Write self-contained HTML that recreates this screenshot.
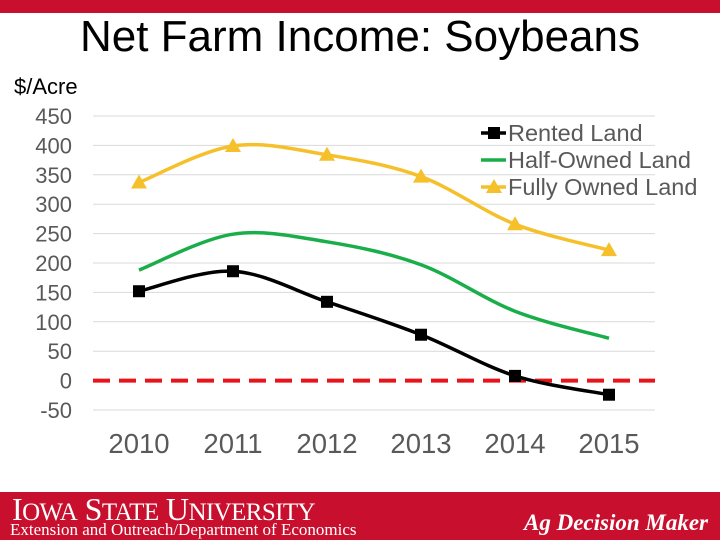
<!DOCTYPE html>
<html><head><meta charset="utf-8"><style>
body{margin:0;width:720px;height:540px;overflow:hidden;background:#fff;font-family:"Liberation Sans",sans-serif}
</style></head><body>
<div style="position:absolute;left:0;top:0;width:720px;height:13px;background:#c8102e"></div>
<div style="position:absolute;left:0;top:12px;width:720px;text-align:center;font-size:44px;color:#000">Net Farm Income: Soybeans</div>
<div style="position:absolute;left:14px;top:74px;font-size:22px;color:#000">$/Acre</div>
<svg id="c" width="720" height="540" style="position:absolute;left:0;top:0"></svg>
<div style="position:absolute;left:0;top:492px;width:720px;height:48px;background:#c8102e;color:#fff">
<div style="position:absolute;left:12px;top:-1px;font-family:'Liberation Serif',serif;font-size:32px;letter-spacing:-0.6px;white-space:nowrap">I<span style="font-size:25px">OWA</span> S<span style="font-size:25px">TATE</span> U<span style="font-size:25px">NIVERSITY</span></div>
<div style="position:absolute;left:10px;top:28px;font-family:'Liberation Serif',serif;font-size:17px;white-space:nowrap">Extension and Outreach/Department of Economics</div>
<div style="position:absolute;right:12px;top:18px;font-family:'Liberation Serif',serif;font-style:italic;font-weight:bold;font-size:23px">Ag Decision Maker</div>
</div>
<script>
const categories=["2010","2011","2012","2013","2014","2015"];
const rented=[152,186,134,78,8,-24];
const halfOwned=[188,249,236,197,118,72];
const fullyOwned=[337,399,384,347,266,222];
const yTicks=[450,400,350,300,250,200,150,100,50,0,-50];
const NS="http://www.w3.org/2000/svg";
const svg=document.getElementById('c');
const y=v=>380.6-v*0.588;
const x=i=>139+i*94;
function mk(t,a,p){const e=document.createElementNS(NS,t);for(const k in a)e.setAttribute(k,a[k]);(p||svg).appendChild(e);return e;}
yTicks.forEach(v=>{
 if(v!==0){const g=mk('line',{x1:93,x2:655,y1:y(v),y2:y(v),stroke:'#d9d9d9','stroke-width':1});
 
 }
 const t=mk('text',{x:72,y:y(v)+8,'text-anchor':'end','font-size':22,fill:'#595959'});t.textContent=v;
 
 
});
categories.forEach((c,i)=>{const t=mk('text',{x:x(i),y:453,'text-anchor':'middle','font-size':27.5,fill:'#595959'});t.textContent=c;
 
 });
const z=mk('line',{x1:93,x2:655,y1:y(0),y2:y(0),stroke:'#e8141b','stroke-width':4,'stroke-dasharray':'17,9'});


function smooth(vals){const p=vals.map((v,i)=>[x(i),y(v)]);let d=`M${p[0][0]},${p[0][1]}`;
 for(let i=0;i<p.length-1;i++){const p0=p[Math.max(0,i-1)],p1=p[i],p2=p[i+1],p3=p[Math.min(p.length-1,i+2)];const k=1/6;
 d+=` C${p1[0]+(p2[0]-p0[0])*k},${p1[1]+(p2[1]-p0[1])*k} ${p2[0]-(p3[0]-p1[0])*k},${p2[1]-(p3[1]-p1[1])*k} ${p2[0]},${p2[1]}`;}return d;}
function series(vals,color,marker,name){
 const l=mk('path',{d:smooth(vals),fill:'none',stroke:color,'stroke-width':3.5});
 
 
 vals.forEach((v,i)=>{let m;
  if(marker==='sq')m=mk('rect',{x:x(i)-6,y:y(v)-6,width:12,height:12,fill:'#000'});
  else if(marker==='tri')m=mk('polygon',{points:`${x(i)-8},${y(v)+6} ${x(i)+8},${y(v)+6} ${x(i)},${y(v)-8}`,fill:color});
  if(m){
  }});
}
series(halfOwned,'#1aae4a',null,'half-owned');
series(fullyOwned,'#f5c02a','tri','fully-owned');
series(rented,'#000','sq','rented');
const leg=[["Rented Land",'#000','sq'],["Half-Owned Land",'#1aae4a',null],["Fully Owned Land",'#f5c02a','tri']];
leg.forEach((e,i)=>{const cy=133+i*27;
 const l=mk('line',{x1:481,x2:506,y1:cy,y2:cy,stroke:e[1],'stroke-width':3.5});
 
 
 if(e[2]==='sq'){const m=mk('rect',{x:488,y:cy-6,width:12,height:12,fill:'#000'});
 }
 if(e[2]==='tri'){const m=mk('polygon',{points:`486,${cy+6} 502,${cy+6} 494,${cy-8}`,fill:e[1]});
 }
 const t=mk('text',{x:508,y:cy+8,'font-size':23.5,fill:'#595959'});t.textContent=e[0];
 
 
});
</script>
</body></html>
